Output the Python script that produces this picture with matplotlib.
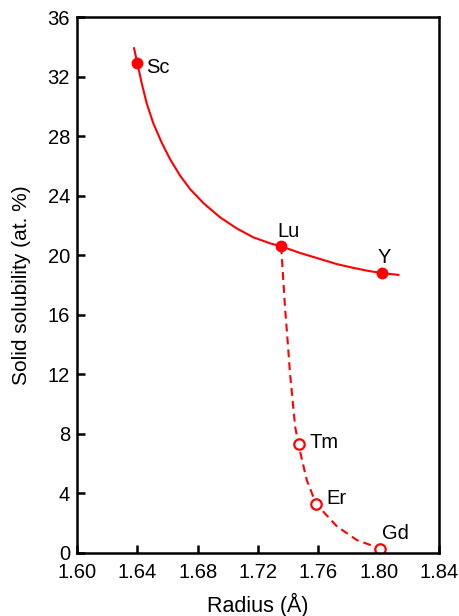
import matplotlib.pyplot as plt

plt.rcParams["font.family"] = ["Liberation Sans", "DejaVu Sans"]
plt.rcParams["font.size"] = 14.5

# labelled elements
names_solid = ["Sc", "Lu", "Y"]
radius_solid = [1.640, 1.735, 1.802]
solub_solid = [32.9, 20.6, 18.8]

names_open = ["Tm", "Er", "Gd"]
radius_open = [1.747, 1.7585, 1.801]
solub_open = [7.3, 3.3, 0.3]

# traced trend curves
trend_x = [1.6378, 1.6400, 1.6429, 1.6462, 1.6506, 1.6562, 1.6617, 1.6683,
           1.6749, 1.6838, 1.6948, 1.7059, 1.7169, 1.7280, 1.7353, 1.7479,
           1.7611, 1.7724, 1.7832, 1.7930, 1.8020, 1.8131]
trend_y = [33.9, 32.9, 31.55, 30.2, 28.85, 27.55, 26.45, 25.35,
           24.45, 23.5, 22.55, 21.8, 21.2, 20.8, 20.6, 20.15,
           19.75, 19.4, 19.15, 18.95, 18.8, 18.68]

dash_x = [1.7353, 1.7366, 1.7379, 1.7396, 1.7412, 1.7446, 1.7468, 1.7523,
          1.7585, 1.7722, 1.7855, 1.8009]
dash_y = [20.6, 18.6, 16.5, 14.3, 12.1, 8.5, 7.3, 4.9, 3.3, 1.8, 0.87, 0.3]

x_ticks = [1.60, 1.64, 1.68, 1.72, 1.76, 1.80, 1.84]
y_ticks = [0, 4, 8, 12, 16, 20, 24, 28, 32, 36]

# label offsets in points
offsets = {"Sc": (6.5, -3, "left", "center"), "Lu": (6, 7, "center", "baseline"),
           "Y": (2, 7, "center", "baseline"), "Tm": (8, 1, "left", "center"),
           "Er": (7.5, 3.5, "left", "center"), "Gd": (1, 7, "left", "baseline")}

red = "#ff0000"

fig = plt.figure(figsize=(4.59, 6.16), dpi=100)
ax = fig.add_axes([0.1678, 0.1023, 0.7886, 0.8701])

ax.plot(trend_x, trend_y, color=red, lw=1.5)
ax.plot(dash_x, dash_y, color=red, lw=1.5, dashes=(3.8, 2.4))
ax.plot(radius_solid, solub_solid, "o", color=red, ms=7.5)
ax.plot(radius_open, solub_open, "o", mfc="white", mec=red, mew=1.6, ms=7.5)

for n, x, y in zip(names_solid + names_open, radius_solid + radius_open,
                   solub_solid + solub_open):
    dx, dy, ha, va = offsets[n]
    ax.annotate(n, (x, y), xytext=(dx, dy), textcoords="offset points",
                ha=ha, va=va)

ax.set_xlim(1.60, 1.84)
ax.set_ylim(0, 36)
ax.set_xticks(x_ticks)
ax.set_xticklabels(["%.2f" % t for t in x_ticks])
ax.set_yticks(y_ticks)
for s in ax.spines.values():
    s.set_linewidth(1.8)
ax.tick_params(direction="in", length=6, width=1.8)
ax.tick_params(axis="x", pad=7)
ax.tick_params(axis="y", pad=5)
ax.set_xlabel("Radius (Å)", fontsize=15.5, labelpad=8)
ax.set_ylabel("Solid solubility (at. %)", fontsize=15, labelpad=12)

fig.savefig("out.png", dpi=100)
plt.close(fig)
